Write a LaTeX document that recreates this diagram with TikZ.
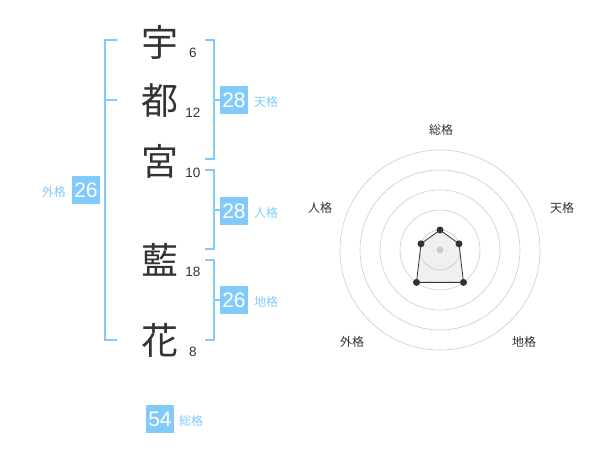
\documentclass[tikz,border=0pt]{standalone}
\usepackage{fontspec}
\setmainfont{Liberation Sans}
\newfontfamily\jp{Noto Sans CJK JP}
\definecolor{skyb}{RGB}{130,202,250}
\definecolor{txt}{RGB}{51,51,51}
\definecolor{ring}{RGB}{204,204,204}
\begin{document}
\begin{tikzpicture}[x=1pt,y=-1pt,
  kanji/.style={inner sep=0pt,text=txt,font=\jp\fontsize{37}{37}\selectfont},
  stroke/.style={inner sep=0pt,text=txt,font=\fontsize{13.5}{13.5}\selectfont},
  numbox/.style={fill=skyb,text=white,minimum width=28pt,minimum height=28pt,inner sep=0pt,font=\fontsize{21}{21}\selectfont},
  kakulbl/.style={inner sep=0pt,text=skyb,font=\jp\fontsize{12}{12}\selectfont},
  brk/.style={draw=skyb,line width=1.6pt},
  radarlbl/.style={inner sep=0pt,text=txt,font=\jp\fontsize{12}{12}\selectfont},
  ringline/.style={draw=ring,line width=0.6pt},
  dot/.style={circle,fill=txt,inner sep=0pt,minimum size=7pt}]
\useasboundingbox (0,0) rectangle (600,470);
% kanji
\node[kanji] (k1) at (160,42) {宇};
\node[kanji] (k2) at (160,101) {都};
\node[kanji] (k3) at (160,161) {宮};
\node[kanji] (k4) at (160,260) {藍};
\node[kanji] (k5) at (160,340) {花};
% stroke counts
\node[stroke] (s1) at (193,53) {6};
\node[stroke] (s2) at (193,113) {12};
\node[stroke] (s3) at (193,173) {10};
\node[stroke] (s4) at (193,272) {18};
\node[stroke] (s5) at (193,352) {8};
% brackets
\draw[brk] (117,40) -- (105,40) -- (105,340) -- (117,340);
\draw[brk] (105,100) -- (117,100);
\draw[brk] (205,40) -- (214,40) -- (214,159) -- (205,159);
\draw[brk] (214,100) -- (220,100);
\draw[brk] (205,170) -- (214,170) -- (214,249) -- (205,249);
\draw[brk] (214,210) -- (220,210);
\draw[brk] (205,260) -- (214,260) -- (214,340) -- (205,340);
\draw[brk] (214,300) -- (220,300);
% boxes
\node[numbox] (ten) at (234,100) {28};
\node[kakulbl,anchor=west] (tenl) at (254,102) {天格};
\node[numbox] (jin) at (234,211) {28};
\node[kakulbl,anchor=west] (jinl) at (254,213) {人格};
\node[numbox] (chi) at (234,300) {26};
\node[kakulbl,anchor=west] (chil) at (254,302) {地格};
\node[numbox] (gai) at (86,190) {26};
\node[kakulbl,anchor=east] (gail) at (66,192) {外格};
\node[numbox] (sou) at (160,419) {54};
\node[kakulbl,anchor=west] (soul) at (179,421) {総格};
% radar
\coordinate (c) at (440,250);
\coordinate (p1) at (440,230);
\coordinate (p2) at (459.0,243.8);
\coordinate (p3) at (463.5,282.4);
\coordinate (p4) at (416.5,282.4);
\coordinate (p5) at (421.0,243.8);
\fill[black!6] (p1) -- (p2) -- (p3) -- (p4) -- (p5) -- cycle;
\foreach \r in {20,40,60,80,100} \draw[ringline] (c) circle[radius=\r];
\fill[ring] (c) circle[radius=3.5];
\draw[draw=txt,line width=0.8pt] (p1) -- (p2) -- (p3) -- (p4) -- (p5) -- cycle;
\foreach \p in {p1,p2,p3,p4,p5} \node[dot] at (\p) {};
\node[radarlbl] (r1) at (441,130) {総格};
\node[radarlbl] (r2) at (562,208) {天格};
\node[radarlbl] (r3) at (524,342) {地格};
\node[radarlbl] (r4) at (352,342) {外格};
\node[radarlbl] (r5) at (320,208) {人格};
\end{tikzpicture}
\end{document}
